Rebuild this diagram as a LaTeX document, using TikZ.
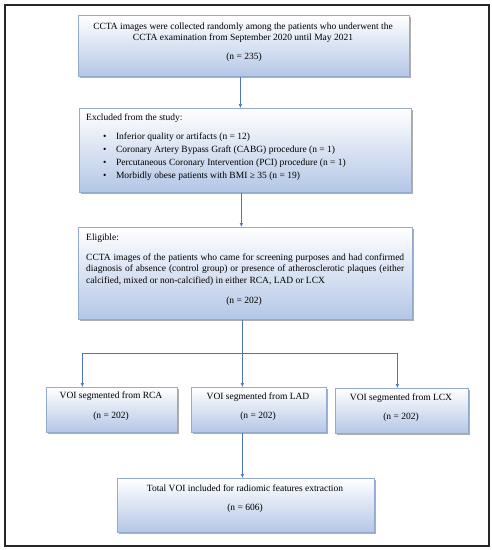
\documentclass[tikz,border=0pt]{standalone}
\usepackage{fontspec}
\setmainfont{Liberation Serif}
\usetikzlibrary{arrows.meta,shadows,calc}
\definecolor{boxline}{HTML}{94AAD2}
\definecolor{boxfill}{HTML}{B3C6E6}
\definecolor{arrowc}{HTML}{4F74B8}
\tikzset{
  flowbox/.style={draw=boxline, line width=0.8pt, top color=white, bottom color=boxfill,
    drop shadow={shadow xshift=1.6pt, shadow yshift=-1.6pt, fill=black!45, opacity=0.7},
    inner sep=0, anchor=north west},
  txt/.style={inner sep=0, font=\fontsize{9.5}{11}\selectfont},
  conn/.style={draw=arrowc, line width=0.6pt},
  arr/.style={conn, -{Latex[length=4pt,width=3.5pt]}}
}
\begin{document}
\begin{tikzpicture}[x=1pt,y=-1pt]
\useasboundingbox (0,0) rectangle (492,550);
\node[draw=black!85, line width=1.6pt, inner sep=0, minimum width=484pt, minimum height=541pt, anchor=north west] (frame) at (4,4) {};
% boxes
\node[flowbox, minimum width=331pt, minimum height=61pt] (b1) at (78,15) {};
\node[flowbox, minimum width=332pt, minimum height=84pt] (b2) at (79,108) {};
\node[flowbox, minimum width=334pt, minimum height=92pt] (b3) at (78,227) {};
\node[flowbox, minimum width=131pt, minimum height=45pt] (rca) at (46,387) {};
\node[flowbox, minimum width=135pt, minimum height=45pt] (lad) at (191,387) {};
\node[flowbox, minimum width=133pt, minimum height=45pt] (lcx) at (335,388) {};
\node[flowbox, minimum width=257pt, minimum height=54pt] (tot) at (117,478) {};
% box 1 text
\node[txt, anchor=base] (t1a) at (243,29) {CCTA images were collected randomly among the patients who underwent the};
\node[txt, anchor=base] (t1b) at (243,40) {CCTA examination from September 2020 until May 2021};
\node[txt, anchor=base] (t1c) at (244,59) {(n = 235)};
% box 2 text
\node[txt, anchor=base west] (t2a) at (86,120) {Excluded from the study:};
\node[txt, anchor=base west] (t2b) at (103,139) {\textbullet\hspace{9.5pt}Inferior quality or artifacts (n = 12)};
\node[txt, anchor=base west] (t2c) at (103,152) {\textbullet\hspace{9.5pt}Coronary Artery Bypass Graft (CABG) procedure (n = 1)};
\node[txt, anchor=base west] (t2d) at (103,165) {\textbullet\hspace{9.5pt}Percutaneous Coronary Intervention (PCI) procedure (n = 1)};
\node[txt, anchor=base west] (t2e) at (103,178) {\textbullet\hspace{9.5pt}Morbidly obese patients with BMI ≥ 35 (n = 19)};
% box 3 text
\node[txt, anchor=base west] (t3a) at (86,240) {Eligible:};
\node[txt, anchor=base west] (t3b) at (86,260) {\makebox[318pt][s]{CCTA images of the patients who came for screening purposes and had confirmed}};
\node[txt, anchor=base west] (t3c) at (86,271.5) {\makebox[318pt][s]{diagnosis of absence (control group) or presence of atherosclerotic plaques (either}};
\node[txt, anchor=base west] (t3d) at (86,283) {calcified, mixed or non-calcified) in either RCA, LAD or LCX};
\node[txt, anchor=base] (t3e) at (244,303) {(n = 202)};
% lower boxes text
\node[txt, anchor=base] (t4a) at (111,398) {VOI segmented from RCA};
\node[txt, anchor=base] (t4b) at (111,418) {(n = 202)};
\node[txt, anchor=base] (t5a) at (258,399) {VOI segmented from LAD};
\node[txt, anchor=base] (t5b) at (258,418) {(n = 202)};
\node[txt, anchor=base] (t6a) at (401,400) {VOI segmented from LCX};
\node[txt, anchor=base] (t6b) at (401,419) {(n = 202)};
\node[txt, anchor=base] (t7a) at (245,491) {Total VOI included for radiomic features extraction};
\node[txt, anchor=base] (t7b) at (245,510) {(n = 606)};
% connectors
\coordinate (a1s) at ($(b1.south)+(-3.5,0)$);
\coordinate (a2s) at ($(b2.south)+(-4,0)$);
\coordinate (split) at ($(b3.south)+(-3,33)$);
\coordinate (splitL) at ($(split)+(-160,0)$);
\coordinate (splitR) at ($(split)+(155,0)$);
\draw[arr] (a1s) -- (a1s |- b2.north);
\draw[arr] (a2s) -- (a2s |- b3.north);
\draw[conn] (split |- b3.south) -- (split);
\draw[conn] (splitL) -- (splitR);
\draw[arr] (splitL) -- (splitL |- rca.north);
\draw[arr] (split) -- (split |- lad.north);
\draw[arr] (splitR) -- (splitR |- lcx.north);
\draw[arr] (split |- lad.south) -- (split |- tot.north);
\end{tikzpicture}
\end{document}
